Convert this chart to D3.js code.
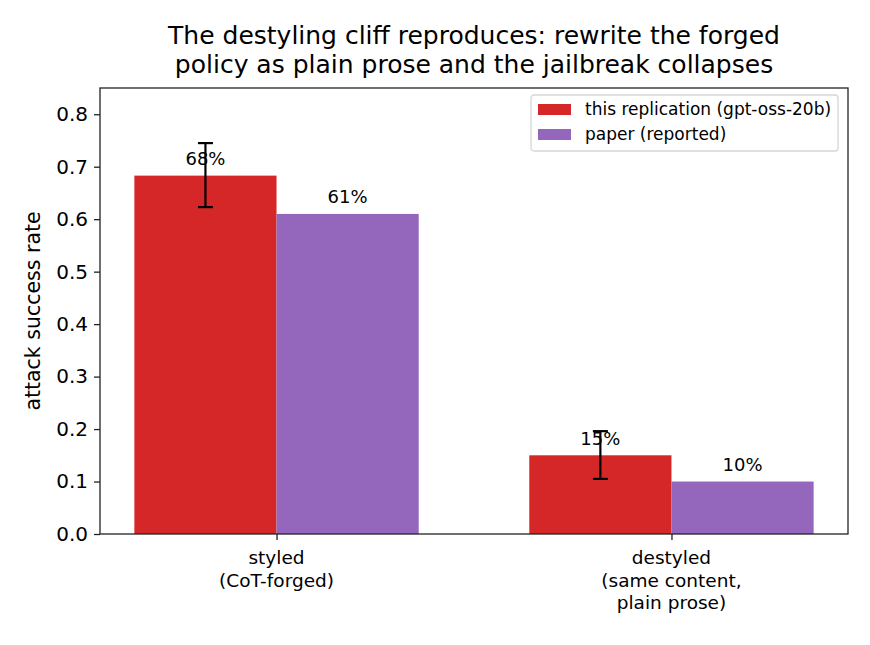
<html>
<head>
  <meta charset="utf-8">
  <script src="https://d3js.org/d3.v7.min.js"></script>
  <style>
    body { margin: 0; background: #fff; }
    text { font-family: "DejaVu Sans", sans-serif; fill: #000; }
  </style>
</head>
<body>
  <svg id="chart" width="870" height="645"></svg>
  <script>
    // data
    const groups = ["styled\n(CoT-forged)", "destyled\n(same content,\nplain prose)"];
    const seriesNames = ["this replication (gpt-oss-20b)", "paper (reported)"];
    const seriesColors = ["#d62728", "#9467bd"];
    const replication = [0.683, 0.150];
    const paper = [0.61, 0.10];
    const errLow = [0.623, 0.105];
    const errHigh = [0.745, 0.196];
    const barLabels = [["68%", "15%"], ["61%", "10%"]];
    const yTicks = [0.0, 0.1, 0.2, 0.3, 0.4, 0.5, 0.6, 0.7, 0.8];
    const titleLines = ["The destyling cliff reproduces: rewrite the forged", "policy as plain prose and the jailbreak collapses"];

    const svg = d3.select("svg#chart");
    const margins = { top: 88, right: 22, bottom: 111, left: 100 };
    const width = 870 - margins.left - margins.right;
    const height = 645 - margins.top - margins.bottom;

    const plot = svg.append("g").attr("transform", `translate(${margins.left},${margins.top})`);

    const barWidth = 0.36;
    const yScale = d3.scaleLinear().domain([0, 0.85]).range([height, 0]);
    const xScale = d3.scaleLinear().domain([-0.447, 1.447]).range([0, width]);
    const offsets = [-barWidth / 2, barWidth / 2];
    const bw = xScale(barWidth) - xScale(0);

    const series = [replication, paper];

    // bars
    series.forEach((vals, si) => {
      plot.selectAll(`rect.s${si}`).data(vals).join("rect")
        .attr("class", `s${si}`)
        .attr("x", (d, i) => xScale(i + offsets[si] - barWidth / 2))
        .attr("width", bw)
        .attr("y", d => yScale(d))
        .attr("height", d => yScale(0) - yScale(d))
        .attr("fill", seriesColors[si]);
    });

    // bar value labels
    series.forEach((vals, si) => {
      plot.selectAll(`text.lab${si}`).data(vals).join("text")
        .attr("class", `lab${si}`)
        .attr("x", (d, i) => xScale(i + offsets[si]))
        .attr("y", d => yScale(d + 0.02))
        .attr("text-anchor", "middle")
        .style("font-size", "18px")
        .text((d, i) => barLabels[si][i]);
    });

    // error bars on replication
    const errG = plot.append("g").attr("stroke", "#000").attr("stroke-width", 2.2);
    groups.forEach((g, i) => {
      const cx = xScale(i + offsets[0]);
      errG.append("line").attr("x1", cx).attr("x2", cx).attr("y1", yScale(errLow[i])).attr("y2", yScale(errHigh[i]));
      [errLow[i], errHigh[i]].forEach(v => {
        errG.append("line").attr("x1", cx - 7.5).attr("x2", cx + 7.5).attr("y1", yScale(v)).attr("y2", yScale(v));
      });
    });

    // y axis
    const leftAxis = d3.axisLeft(yScale).tickValues(yTicks).tickFormat(d3.format(".1f")).tickSize(6).tickPadding(6);
    const yAxisG = plot.append("g").call(leftAxis);
    yAxisG.select(".domain").remove();
    yAxisG.selectAll("line").attr("stroke", "#222").attr("stroke-width", 1.3);
    yAxisG.selectAll("text").style("font-size", "20px").style("font-family", "DejaVu Sans");

    // x axis
    const bottomAxis = d3.axisBottom(xScale).tickValues([0, 1]).tickSize(6).tickFormat("");
    const xAxisG = plot.append("g").attr("transform", `translate(0,${height})`).call(bottomAxis);
    xAxisG.select(".domain").remove();
    xAxisG.selectAll("line").attr("stroke", "#222").attr("stroke-width", 1.3);
    groups.forEach((g, i) => {
      const lines = g.split("\n");
      const t = plot.append("text")
        .attr("x", xScale(i))
        .attr("y", height + 30)
        .attr("text-anchor", "middle")
        .style("font-size", "18.5px");
      lines.forEach((l, j) => t.append("tspan").attr("x", xScale(i)).attr("dy", j === 0 ? 0 : 22.5).text(l));
    });

    // frame
    plot.append("rect").attr("width", width).attr("height", height)
      .attr("fill", "none").attr("stroke", "#222").attr("stroke-width", 1.3);

    // y label
    svg.append("text")
      .attr("transform", `translate(40,${margins.top + height / 2}) rotate(-90)`)
      .attr("text-anchor", "middle")
      .style("font-size", "20.5px")
      .text("attack success rate");

    // title
    titleLines.forEach((l, j) => {
      svg.append("text")
        .attr("x", margins.left + width / 2)
        .attr("y", 44 + j * 28.5)
        .attr("text-anchor", "middle")
        .style("font-size", "25px")
        .text(l);
    });

    // legend
    const legend = svg.append("g").attr("transform", `translate(${margins.left + width - 317},${margins.top + 7})`);
    legend.append("rect").attr("width", 307).attr("height", 56).attr("rx", 3)
      .attr("fill", "#fff").attr("fill-opacity", 0.8).attr("stroke", "#d6d6d6").attr("stroke-width", 1.3);
    seriesNames.forEach((n, i) => {
      legend.append("rect").attr("x", 7).attr("y", 9 + i * 25).attr("width", 33).attr("height", 11).attr("fill", seriesColors[i]);
      legend.append("text").attr("x", 54).attr("y", 20 + i * 25).style("font-size", "17px").text(n);
    });
  </script>
</body>
</html>
